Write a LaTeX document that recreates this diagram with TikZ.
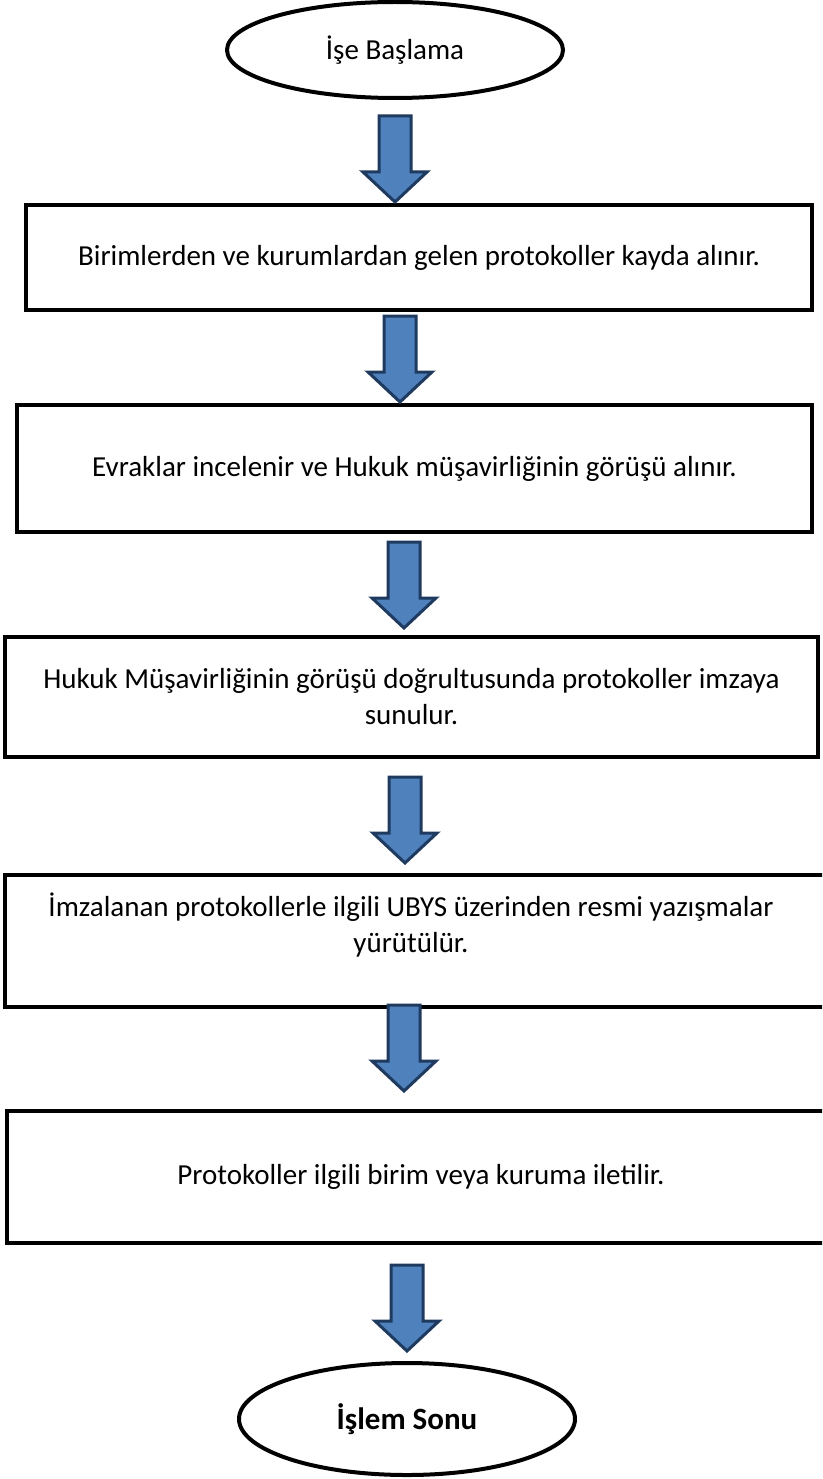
\documentclass[tikz,border=0pt]{standalone}
\usepackage{fontspec}
\setmainfont{Carlito}
\usetikzlibrary{shapes.geometric}

\definecolor{arrowfill}{HTML}{4F81BD}
\definecolor{arrowedge}{HTML}{1F3A5F}

% block arrow pointing down: #1 = x of axis, #2 = y of top edge
\newcommand{\flowarrow}[2]{%
  \draw[blockarrow] (#1-16,#2) -- (#1+16,#2) -- (#1+16,#2+56) -- (#1+32,#2+56)
    -- (#1,#2+86) -- (#1-32,#2+56) -- (#1-16,#2+56) -- cycle;}

\begin{document}
\begin{tikzpicture}[
    x=1pt, y=-1pt,
    terminal/.style={ellipse, draw, line width=4pt, fill=white, inner sep=0pt,
      minimum width=336pt, font=\fontsize{29pt}{36pt}\selectfont},
    stepbox/.style={rectangle, draw, line width=4.5pt, fill=white, align=center,
      inner sep=0pt, font=\fontsize{29pt}{36pt}\selectfont},
    steptext/.style={align=center, inner sep=0pt, font=\fontsize{29pt}{36pt}\selectfont},
    blockarrow/.style={fill=arrowfill, draw=arrowedge, line width=3pt, line join=miter}
]
    \useasboundingbox (0,0) rectangle (822,1479);
    \clip (0,0) rectangle (822,1479);

    % Start
    \node[terminal, minimum height=96pt] (start) at (395,50) {İşe Başlama};

    % Steps
    \node[stepbox, minimum width=786pt, minimum height=105pt] (box1) at (419,257.5)
      {Birimlerden ve kurumlardan gelen protokoller kayda alınır.};
    \node[stepbox, minimum width=795pt, minimum height=127pt] (box2) at (414.5,468.5)
      {Evraklar incelenir ve Hukuk müşavirliğinin görüşü alınır.};
    \node[stepbox, minimum width=813pt, minimum height=120pt] (box3) at (411.5,697)
      {Hukuk Müşavirliğinin görüşü doğrultusunda protokoller imzaya\\ sunulur.};
    \node[stepbox, minimum width=830pt, minimum height=132pt] (box4) at (420,941) {};
    \node[steptext] (text4) at (411,925)
      {İmzalanan protokollerle ilgili UBYS üzerinden resmi yazışmalar\\ yürütülür.};
    \node[stepbox, minimum width=828pt, minimum height=132pt] (box5) at (421,1177)
      {Protokoller ilgili birim veya kuruma iletilir.};

    % End
    \node[terminal, minimum height=112pt, font=\fontsize{31pt}{36pt}\selectfont\bfseries]
      (finish) at (407,1419) {İşlem Sonu};

    % Arrows
    \flowarrow{395}{116}
    \flowarrow{400}{316}
    \flowarrow{404}{542}
    \flowarrow{405}{777}
    \flowarrow{404}{1005}
    \flowarrow{407}{1265}

\end{tikzpicture}
\end{document}
